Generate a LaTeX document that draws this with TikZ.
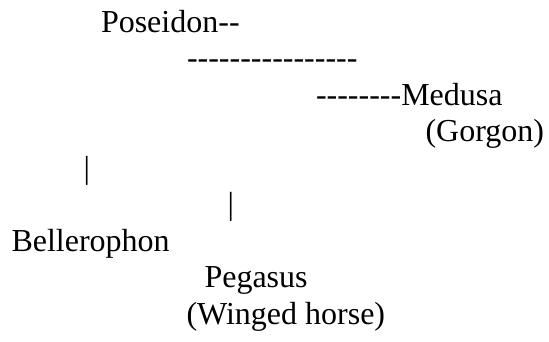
\documentclass[tikz,border=0pt]{standalone}
\usepackage{fontspec}
\setmainfont{Liberation Serif}[Ligatures=TeXOff]
\begin{document}
\begin{tikzpicture}[x=1bp,y=-1bp,
  txt/.style={inner sep=0pt,outer sep=0pt,anchor=base west,font=\fontsize{32bp}{36bp}\selectfont}]
\useasboundingbox (0,0) rectangle (549,341);
\node[txt] (poseidon) at (101,32) {Poseidon--};
\node[txt] (dashes) at (187,68.5) {----------------};
\node[txt] (medusa) at (316,105) {--------Medusa};
\node[txt] (gorgon) at (425.5,141.5) {(Gorgon)};
\node[txt] (bar1) at (83.5,178) {|};
\node[txt] (bar2) at (227.5,214.5) {|};
\node[txt] (bellerophon) at (11.5,251) {Bellerophon};
\node[txt] (pegasus) at (204.5,287.5) {Pegasus};
\node[txt] (winged) at (186.5,324) {(Winged horse)};
\end{tikzpicture}
\end{document}
